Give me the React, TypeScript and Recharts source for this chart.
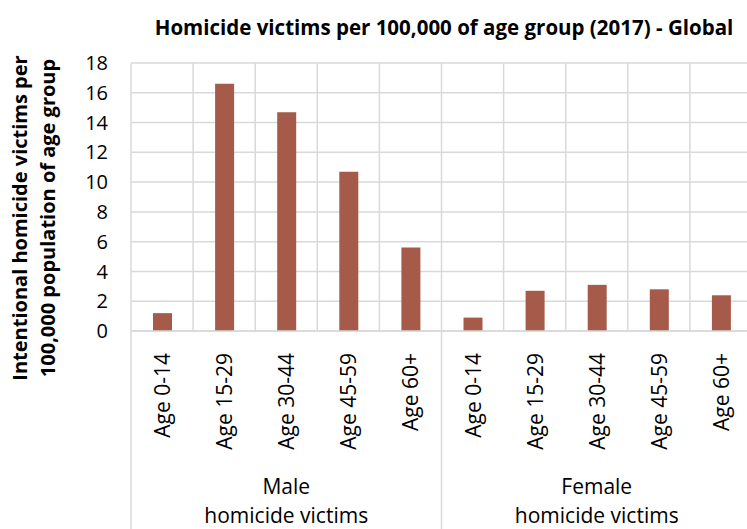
import { Bar, BarChart, CartesianGrid, XAxis, YAxis } from "recharts";

const ageGroups = ["Age 0-14", "Age 15-29", "Age 30-44", "Age 45-59", "Age 60+"];
const groupNames = ["Male", "Female"];
const groupSubtitle = "homicide victims";
const maleRates = [1.2, 16.6, 14.7, 10.7, 5.6];
const femaleRates = [0.9, 2.7, 3.1, 2.8, 2.4];
const yTicks = [0, 2, 4, 6, 8, 10, 12, 14, 16, 18];

const title = "Homicide victims per 100,000 of age group (2017) - Global";
const yLabelLines = ["Intentional homicide victims per", "100,000 population of age group"];

const rows = [maleRates, femaleRates].flatMap((rates, g) =>
  rates.map((value, i) => ({
    key: `${groupNames[g]} ${ageGroups[i]}`,
    age: ageGroups[i],
    group: groupNames[g],
    first: i === 0,
    middle: i === Math.floor(ageGroups.length / 2),
    value,
  })),
);

const FONT = "'Open Sans', sans-serif";
const GRID = "#d9d9d9";
const CHART_W = 752;
const CHART_H = 529;
const Y_AXIS_W = 131;
const CAT_W = (CHART_W - Y_AXIS_W) / rows.length;

function CategoryTick(props: any) {
  const { x, y, index } = props;
  const row = rows[index];
  if (!row) return null;
  return (
    <g>
      {row.first && (
        <line x1={x - CAT_W / 2} x2={x - CAT_W / 2} y1={y} y2={CHART_H} stroke={GRID} strokeWidth={1.5} />
      )}
      <text
        transform={`translate(${x}, ${y + 22}) rotate(-90)`}
        textAnchor="end"
        dominantBaseline="central"
        fontSize={21}
        fontFamily={FONT}
        fill="#000"
      >
        {row.age}
      </text>
      {row.middle && (
        <text textAnchor="middle" fontSize={21} fontFamily={FONT} fill="#000">
          <tspan x={x} y={y + 163}>{row.group}</tspan>
          <tspan x={x} y={y + 192}>{groupSubtitle}</tspan>
        </text>
      )}
    </g>
  );
}

export default function App() {
  return (
    <div style={{ position: "absolute", left: 0, top: 0, width: 747, height: 529, overflow: "hidden", background: "#fff" }}>
      <BarChart width={CHART_W} height={CHART_H} data={rows} margin={{ top: 63, right: 0, left: 0, bottom: 0 }}>
        <CartesianGrid
          stroke={GRID}
          strokeWidth={1.5}
          verticalCoordinatesGenerator={({ offset }: any) =>
            Array.from({ length: rows.length + 1 }, (_, i) => offset.left + (i * offset.width) / rows.length)
          }
        />
        <XAxis
          dataKey="key"
          interval={0}
          tickLine={false}
          tickSize={0}
          tickMargin={0}
          height={198}
          axisLine={{ stroke: GRID, strokeWidth: 1.5 }}
          tick={<CategoryTick />}
        />
        <YAxis
          width={Y_AXIS_W}
          domain={[0, 18]}
          ticks={yTicks}
          axisLine={false}
          tickLine={false}
          tickSize={0}
          tickMargin={23}
          tick={{ fill: "#000", fontSize: 20, fontFamily: FONT }}
        />
        <Bar dataKey="value" fill="#a65b4a" barSize={19} isAnimationActive={false} />
      </BarChart>
      <svg width={747} height={529} style={{ position: "absolute", left: 0, top: 0, pointerEvents: "none" }}>
        <text x={444} y={35} textAnchor="middle" fontSize={20.5} fontWeight="bold" fontFamily={FONT} fill="#000">
          {title}
        </text>
        {yLabelLines.map((line, i) => (
          <text
            key={line}
            transform={`translate(${19 + i * 28}, 218) rotate(-90)`}
            textAnchor="middle"
            dominantBaseline="central"
            fontSize={20}
            fontWeight="bold"
            fontFamily={FONT}
            fill="#000"
          >
            {line}
          </text>
        ))}
      </svg>
    </div>
  );
}
